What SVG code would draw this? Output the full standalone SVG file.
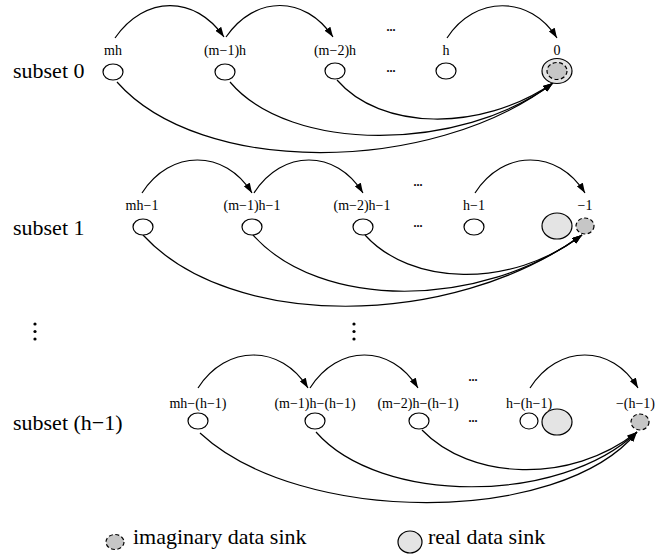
<svg xmlns="http://www.w3.org/2000/svg" width="657" height="560" viewBox="0 0 657 560">
<style>
.bg{fill:#ffffff}
.nd{fill:#ffffff;stroke:#000;stroke-width:1.2}
.real{fill:#e4e4e4;stroke:#000;stroke-width:1.2}
.imag{fill:#c6c6c6;stroke:#000;stroke-width:1.2;stroke-dasharray:4 2.5}
.lbl{font-family:'Liberation Serif','DejaVu Serif',serif;font-size:14px;fill:#000;text-anchor:middle}
.sub{font-family:'Liberation Serif','DejaVu Serif',serif;font-size:22px;fill:#000}
.dots{font-family:'Liberation Serif','DejaVu Serif',serif;font-size:12px;font-weight:bold;fill:#000;text-anchor:middle}
.ed{fill:none;stroke:#000;stroke-width:1.2;marker-end:url(#ah)}
</style>
<defs>
<marker id="ah" markerUnits="userSpaceOnUse" markerWidth="10" markerHeight="7" refX="10" refY="3.5" orient="auto">
<path d="M0,0 L10,3.5 L0,7 z" fill="#000"/>
</marker>
</defs>
<rect class="bg" x="0" y="0" width="657" height="560"/>

<g id="connectors">
<path class="ed" d="M115,38 C145,-5 195,-5 224,37"/>
<path class="ed" d="M226,37 C255,-5 305,-5 333,37"/>
<path class="ed" d="M447,38 C475,-5 530,-5 557,38"/>
<path class="ed" d="M117,82 C200,176 430,176 553,83"/>
<path class="ed" d="M230,82 C290,153 460,153 553,83"/>
<path class="ed" d="M337,80 C380,130 480,133 553,83"/>

<path class="ed" d="M142,193 C170,149 225,149 252,193"/>
<path class="ed" d="M254,193 C282,149 336,149 363,193"/>
<path class="ed" d="M475,193 C503,149 558,149 585,193"/>
<path class="ed" d="M143,235 C230,330 450,330 582,235"/>
<path class="ed" d="M253,235 C320,310 480,310 582,235"/>
<path class="ed" d="M365,235 C410,285 510,290 582,235"/>

<path class="ed" d="M198,388 C226,344 281,344 308,388"/>
<path class="ed" d="M310,388 C338,344 391,344 418,388"/>
<path class="ed" d="M530,388 C558,344 612,344 638,388"/>
<path class="ed" d="M200,433 C300,526 560,526 637,432"/>
<path class="ed" d="M316,432 C380,505 560,505 637,432"/>
<path class="ed" d="M422,430 C470,480 570,485 637,432"/>
</g>

<g font-family="'Liberation Serif', 'DejaVu Serif', serif">
<g id="row0-label"><text class="sub" x="13" y="78">subset 0</text></g>
<g id="n0-mh"><ellipse class="nd" cx="113" cy="72" rx="10" ry="8"/><text class="lbl" x="113" y="55">mh</text></g>
<g id="n0-m1"><ellipse class="nd" cx="225" cy="72" rx="10" ry="8"/><text class="lbl" x="225" y="55">(m−1)h</text></g>
<g id="n0-m2"><ellipse class="nd" cx="335" cy="71" rx="10" ry="8"/><text class="lbl" x="335" y="55">(m−2)h</text></g>
<g id="n0-dots"><text class="dots" x="391" y="31">...</text><text class="dots" x="391" y="72">...</text></g>
<g id="n0-h"><ellipse class="nd" cx="446" cy="71" rx="10" ry="8"/><text class="lbl" x="446" y="55">h</text></g>
<g id="n0-sink"><ellipse class="real" cx="557" cy="71" rx="15" ry="12.5"/><ellipse class="imag" cx="557" cy="71" rx="10" ry="8.5"/><text class="lbl" x="557" y="55">0</text></g>

<g id="row1-label"><text class="sub" x="13" y="235">subset 1</text></g>
<g id="n1-mh"><ellipse class="nd" cx="143" cy="227" rx="10" ry="8"/><text class="lbl" x="142" y="210">mh−1</text></g>
<g id="n1-m1"><ellipse class="nd" cx="252" cy="227" rx="10" ry="8"/><text class="lbl" x="252" y="210">(m−1)h−1</text></g>
<g id="n1-m2"><ellipse class="nd" cx="363" cy="227" rx="10" ry="8"/><text class="lbl" x="362" y="210">(m−2)h−1</text></g>
<g id="n1-dots"><text class="dots" x="418" y="186">...</text><text class="dots" x="418" y="227">...</text></g>
<g id="n1-h"><ellipse class="nd" cx="474" cy="227" rx="10" ry="8"/><text class="lbl" x="474" y="210">h−1</text></g>
<g id="n1-real"><ellipse class="real" cx="557" cy="226" rx="15" ry="13"/></g>
<g id="n1-imag"><ellipse class="imag" cx="585" cy="226" rx="9" ry="8"/><text class="lbl" x="585" y="210">−1</text></g>

<g id="vdots">
<circle cx="35" cy="324" r="1.6" fill="#000"/><circle cx="35" cy="331.5" r="1.6" fill="#000"/><circle cx="35" cy="339" r="1.6" fill="#000"/>
<circle cx="354" cy="324" r="1.6" fill="#000"/><circle cx="354" cy="331.5" r="1.6" fill="#000"/><circle cx="354" cy="339" r="1.6" fill="#000"/>
</g>

<g id="row2-label"><text class="sub" x="13" y="430">subset (h−1)</text></g>
<g id="n2-mh"><ellipse class="nd" cx="198" cy="421" rx="10" ry="8"/><text class="lbl" x="198" y="408">mh−(h−1)</text></g>
<g id="n2-m1"><ellipse class="nd" cx="315" cy="421" rx="10" ry="8"/><text class="lbl" x="315" y="408">(m−1)h−(h−1)</text></g>
<g id="n2-m2"><ellipse class="nd" cx="419" cy="421" rx="10" ry="8"/><text class="lbl" x="418" y="408">(m−2)h−(h−1)</text></g>
<g id="n2-dots"><text class="dots" x="473" y="381">...</text><text class="dots" x="473" y="422">...</text></g>
<g id="n2-h"><ellipse class="nd" cx="529" cy="421" rx="9" ry="8"/><text class="lbl" x="529" y="408">h−(h−1)</text></g>
<g id="n2-real"><ellipse class="real" cx="557" cy="422" rx="15" ry="13"/></g>
<g id="n2-imag"><ellipse class="imag" cx="640" cy="422" rx="9" ry="8"/><text class="lbl" x="655" y="408" style="text-anchor:end">−(h−1)</text></g>

<g id="legend">
<ellipse class="imag" cx="115" cy="542" rx="9" ry="7.5"/>
<text class="sub" x="133" y="544">imaginary data sink</text>
<ellipse class="real" cx="410" cy="542" rx="12" ry="11"/>
<text class="sub" x="428" y="544">real data sink</text>
</g>
</g>
</svg>
